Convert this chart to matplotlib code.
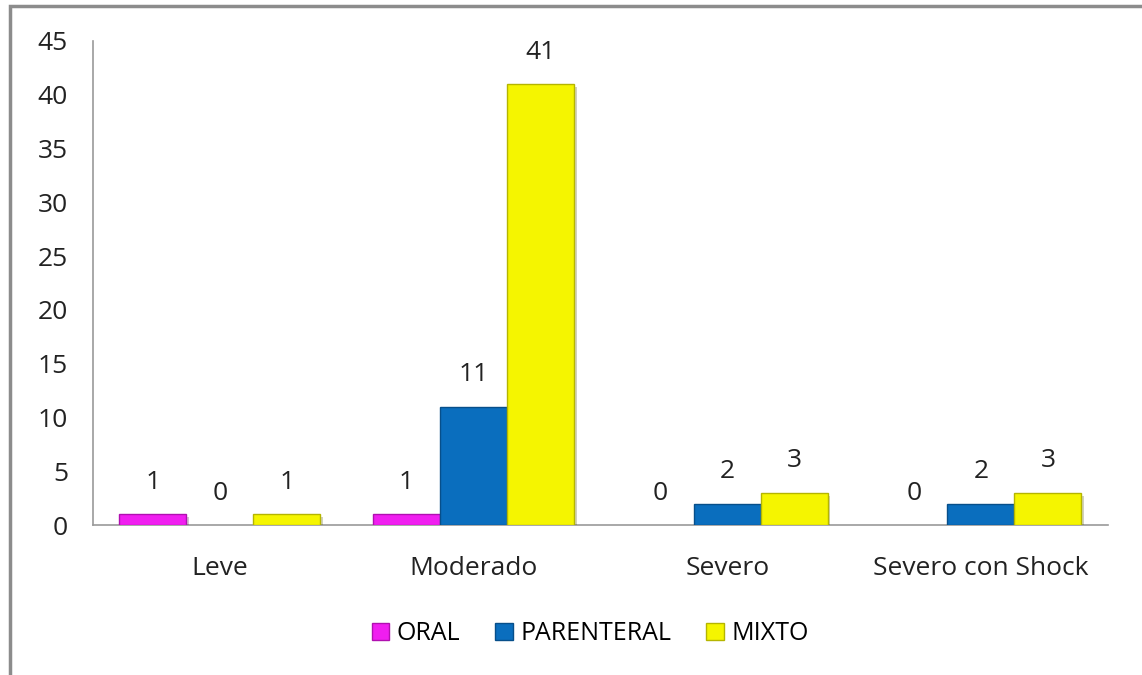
import numpy as np
import matplotlib.pyplot as plt
from matplotlib.patches import Rectangle, Patch
import matplotlib.patheffects as pe

# datos
categorias = ['Leve', 'Moderado', 'Severo', 'Severo con Shock']
series = ['ORAL', 'PARENTERAL', 'MIXTO']
oral = [1, 1, 0, 0]
parenteral = [0, 11, 2, 2]
mixto = [1, 41, 3, 3]
colores = ['#F01EF0', '#0A6EBE', '#F5F500']
bordes = ['#B010B0', '#074F8A', '#B5B500']

plt.rcParams['font.family'] = ['Open Sans', 'DejaVu Sans']

fig = plt.figure(figsize=(11.42, 6.75), dpi=100)
ax = fig.add_axes([0.0814, 0.2222, 0.8886, 0.7171])

x = np.arange(len(categorias))
w = 0.264
valores = [oral, parenteral, mixto]
for i, (nom, vals) in enumerate(zip(series, valores)):
    pos = x + (i - 1) * w
    bars = ax.bar(pos, vals, w, color=colores[i], edgecolor=bordes[i], linewidth=1.0,
                  zorder=3,
                  path_effects=[pe.SimplePatchShadow(offset=(2, -2), alpha=0.25), pe.Normal()])
    for b, v in zip(bars, vals):
        if v == 0:
            b.set_visible(False)
    for p, v in zip(pos, vals):
        ax.annotate(str(v), (p, v), xytext=(0, 23), textcoords='offset points',
                    ha='center', va='center', fontsize=19, color='#222222')

ax.set_xlim(-0.5, len(categorias) - 0.5)
ax.set_ylim(0, 45)
ax.set_yticks(range(0, 46, 5))
ax.set_xticks(x)
ax.set_xticklabels(categorias)
ax.tick_params(axis='both', length=0, labelsize=19, colors='#222222')
ax.tick_params(axis='y', pad=18)
ax.tick_params(axis='x', pad=22)
for s in ['top', 'right']:
    ax.spines[s].set_visible(False)
for s in ['left', 'bottom']:
    ax.spines[s].set_color('#9A9A9A')
    ax.spines[s].set_linewidth(1.2)

handles = [Patch(facecolor=c, edgecolor=e, label=n) for c, e, n in zip(colores, bordes, series)]
leg = ax.legend(handles=handles, loc='center', bbox_to_anchor=(0.49, -0.225), ncol=3, frameon=False,
                fontsize=18, handlelength=0.7, handleheight=0.7, handletextpad=0.3,
                columnspacing=1.4)

# marco del grafico
fig.add_artist(Rectangle((10 / 1142, -0.05), 1.2, 1 - 6 / 675 + 0.05, transform=fig.transFigure,
                         fill=False, edgecolor='#8C8C8C', linewidth=2.5))

fig.savefig('out.png', dpi=100)
